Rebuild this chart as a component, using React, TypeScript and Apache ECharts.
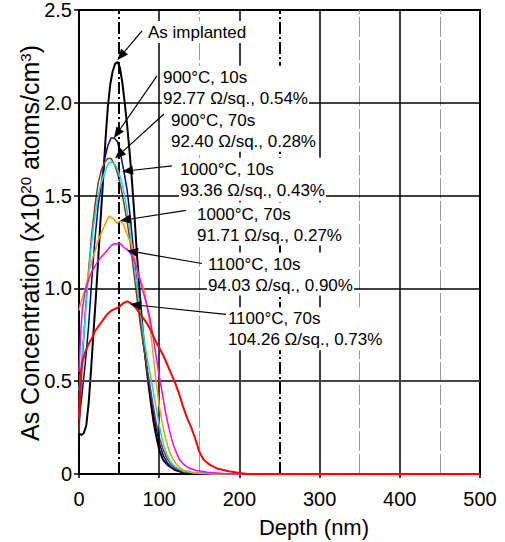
import React, { useEffect, useRef } from "react";
import * as echarts from "echarts";

const FONT = "'Liberation Sans', Arial, Helvetica, sans-serif";

// Depth ticks and concentration ticks
const xTicks = [0, 100, 200, 300, 400, 500];
const yTicks = [0, 0.5, 1.0, 1.5, 2.0, 2.5];

// [depth (nm), As concentration (x10^20 atoms/cm^3)]
const asImplanted = [
  [0, 0.22], [3, 0.21], [6, 0.22], [9, 0.26], [12, 0.38], [15, 0.56], [18, 0.76], [21, 0.95],
  [24, 1.16], [27, 1.38], [30, 1.58], [33, 1.8], [36, 1.98], [39, 2.1], [42, 2.17], [45, 2.21],
  [48, 2.22], [51, 2.19], [54, 2.11], [57, 2.0], [60, 1.88], [63, 1.74], [66, 1.58], [69, 1.4],
  [72, 1.2], [75, 1.02], [78, 0.85], [81, 0.7], [84, 0.58], [87, 0.47], [90, 0.37], [93, 0.28],
  [96, 0.21], [100, 0.13], [105, 0.075], [110, 0.05], [115, 0.035], [120, 0.022], [128, 0.01],
  [140, 0.004], [160, 0.001], [200, 0], [500, 0],
];
const c900_10 = [
  [0, 0.28], [3, 0.4], [6, 0.52], [9, 0.65], [12, 0.8], [16, 1.05], [20, 1.27], [24, 1.45],
  [29, 1.6], [32, 1.7], [36, 1.77], [40, 1.81], [44, 1.81], [48, 1.79], [52, 1.72], [56, 1.63],
  [60, 1.53], [64, 1.38], [68, 1.2], [72, 1.03], [76, 0.86], [80, 0.72], [84, 0.58], [88, 0.46],
  [92, 0.35], [96, 0.25], [100, 0.17], [105, 0.1], [110, 0.06], [115, 0.035], [120, 0.02],
  [130, 0.008], [145, 0.002], [170, 0], [500, 0],
];
const c900_70 = [
  [0, 0.22], [2, 0.42], [4, 0.6], [8, 0.88], [12, 1.1], [16, 1.3], [20, 1.45], [24, 1.57],
  [28, 1.64], [32, 1.68], [36, 1.7], [40, 1.7], [44, 1.67], [48, 1.62], [52, 1.55], [56, 1.46],
  [60, 1.36], [64, 1.24], [68, 1.1], [72, 0.96], [76, 0.82], [80, 0.7], [84, 0.59], [88, 0.49],
  [92, 0.38], [96, 0.28], [100, 0.2], [105, 0.13], [110, 0.08], [115, 0.05], [120, 0.03],
  [130, 0.012], [145, 0.004], [170, 0], [500, 0],
];
const c1000_10 = [
  [0, 0.45], [3, 0.6], [7, 0.8], [10, 0.98], [14, 1.18], [18, 1.33], [22, 1.45], [26, 1.54],
  [30, 1.6], [34, 1.65], [38, 1.68], [42, 1.68], [46, 1.66], [50, 1.62], [54, 1.56], [58, 1.47],
  [62, 1.36], [66, 1.23], [70, 1.09], [74, 0.95], [78, 0.82], [82, 0.7], [86, 0.6], [90, 0.51],
  [94, 0.41], [98, 0.31], [102, 0.22], [106, 0.15], [110, 0.1], [115, 0.06], [120, 0.04],
  [130, 0.015], [145, 0.005], [170, 0], [500, 0],
];
const c1000_70 = [
  [0, 0.88], [2, 0.92], [5, 0.96], [8, 1.0], [10, 1.04], [13, 1.1], [16, 1.15], [20, 1.2],
  [24, 1.26], [28, 1.3], [32, 1.34], [35, 1.37], [38, 1.39], [41, 1.38], [44, 1.37], [47, 1.35],
  [50, 1.36], [53, 1.36], [56, 1.34], [59, 1.3], [62, 1.27], [65, 1.24], [68, 1.2], [71, 1.13],
  [74, 1.07], [78, 1.03], [82, 0.98], [85, 0.9], [88, 0.82], [92, 0.66], [96, 0.5], [100, 0.37],
  [104, 0.27], [108, 0.19], [112, 0.13], [117, 0.08], [122, 0.05], [130, 0.02], [145, 0.006],
  [170, 0], [500, 0],
];
const c1100_10 = [
  [0, 0.55], [2, 0.75], [4, 0.88], [7, 0.97], [10, 1.02], [13, 1.06], [16, 1.09], [20, 1.12],
  [24, 1.15], [28, 1.17], [32, 1.19], [36, 1.21], [40, 1.23], [44, 1.24], [48, 1.24], [52, 1.24],
  [56, 1.22], [60, 1.21], [64, 1.19], [68, 1.16], [72, 1.11], [76, 1.05], [80, 0.98], [84, 0.92],
  [88, 0.85], [92, 0.75], [96, 0.64], [100, 0.53], [104, 0.43], [108, 0.33], [112, 0.25],
  [116, 0.18], [120, 0.13], [125, 0.08], [130, 0.055], [136, 0.035], [145, 0.02], [160, 0.01],
  [180, 0.003], [200, 0], [500, 0],
];
const c1100_70 = [
  [0, 0.3], [1, 0.45], [2, 0.53], [4, 0.6], [8, 0.66], [12, 0.7], [16, 0.73], [20, 0.77],
  [25, 0.8], [30, 0.83], [35, 0.86], [40, 0.88], [45, 0.89], [50, 0.9], [55, 0.92],
  [60, 0.93], [65, 0.92], [70, 0.9], [75, 0.87], [80, 0.84], [85, 0.81], [90, 0.77], [95, 0.72],
  [100, 0.68], [105, 0.64], [110, 0.59], [115, 0.54], [120, 0.49], [125, 0.43], [130, 0.36],
  [135, 0.3], [140, 0.25], [145, 0.19], [150, 0.12], [155, 0.08], [160, 0.06], [165, 0.045],
  [172, 0.03], [187, 0.015], [200, 0.005], [210, 0], [500, 0],
];

const seriesNames = [
  "As implanted", "900°C, 10s", "900°C, 70s", "1000°C, 10s", "1000°C, 70s", "1100°C, 10s", "1100°C, 70s",
];
const seriesData = [asImplanted, c900_10, c900_70, c1000_10, c1000_70, c1100_10, c1100_70];
const seriesColors = ["#000000", "#000099", "#993300", "#00e0e6", "#ff9900", "#ff00ff", "#ff0000"];
const seriesWidths = [2, 1.5, 1.5, 1.5, 1.5, 1.5, 2];

// annotation text lines
const annotLines = [
  ["As implanted"],
  ["900°C, 10s", "92.77 Ω/sq., 0.54%"],
  ["900°C, 70s", "92.40 Ω/sq., 0.28%"],
  ["1000°C, 10s", "93.36 Ω/sq., 0.43%"],
  ["1000°C, 70s", "91.71 Ω/sq., 0.27%"],
  ["1100°C, 10s", "94.03 Ω/sq., 0.90%"],
  ["1100°C, 70s", "104.26 Ω/sq., 0.73%"],
];
// text anchor (left edge, first-line centre) in data coordinates
const annotAnchor = [
  [84.7, 2.382], [103.4, 2.14], [113.4, 1.909], [124.6, 1.645], [145.8, 1.403], [159.5, 1.134], [184.4, 0.839],
];
// arrow start and tip in data coordinates
const arrowFrom = [
  [78.5, 2.387], [97.2, 2.145], [105.9, 1.94], [115.9, 1.66], [133.3, 1.42], [153.3, 1.134], [183.2, 0.86],
];
const arrowTo = [
  [48, 2.23], [43.6, 1.81], [44.9, 1.7], [53.6, 1.63], [51.1, 1.365], [59.8, 1.204], [63.6, 0.914],
];

// grid lines
const vGridSolid = [100, 200, 300, 400];
const vGridDashDark = [50, 250];
const vGridDashLight = [150, 350, 450];
const hGrid = [0.5, 1.0, 1.5, 2.0];

export default function App() {
  const ref = useRef<HTMLDivElement>(null);
  useEffect(() => {
    if (!ref.current) return;
    const chart = echarts.init(ref.current, null, { renderer: "svg" });
    const gridMarks: any[] = [];
    vGridSolid.forEach((v) => gridMarks.push({ xAxis: v, lineStyle: { color: "#000", width: 1.5, type: "solid" } }));
    vGridDashDark.forEach((v) => gridMarks.push({ xAxis: v, lineStyle: { color: "#000", width: 2, type: [12, 3, 2, 3] } }));
    vGridDashLight.forEach((v) => gridMarks.push({ xAxis: v, lineStyle: { color: "#999", width: 1, type: [20, 3] } }));
    hGrid.forEach((v) =>
      gridMarks.push({ yAxis: v, lineStyle: { color: v === 0.5 ? "#444" : "#000", width: v === 0.5 ? 2 : 1.5, type: "solid" } })
    );

    const option: any = {
      animation: false,
      backgroundColor: "#fff",
      textStyle: { fontFamily: FONT },
      grid: { left: 79, right: 25, top: 8, bottom: 68, show: true, borderColor: "#000", borderWidth: 2 },
      xAxis: {
        type: "value", min: xTicks[0], max: xTicks[xTicks.length - 1], interval: 100,
        axisLine: { lineStyle: { color: "#000", width: 1.5 } },
        axisTick: { inside: false, length: 4, lineStyle: { color: "#000", width: 1.5 } },
        axisLabel: { color: "#000", fontSize: 20, fontFamily: FONT, margin: 15 },
        splitLine: { show: false },
      },
      yAxis: {
        type: "value", min: yTicks[0], max: yTicks[yTicks.length - 1], interval: 0.5,
        axisLine: { lineStyle: { color: "#000", width: 1.5 } },
        axisTick: { inside: false, length: 5, lineStyle: { color: "#000", width: 1.5 } },
        axisLabel: {
          color: "#000", fontSize: 20, fontFamily: FONT, margin: 7,
          formatter: (v: number) => (v === 0 ? "0" : v.toFixed(1)),
        },
        splitLine: { show: false },
      },
      series: [
        {
          type: "line", data: [], z: 1, silent: true,
          markLine: { silent: true, symbol: "none", label: { show: false }, animation: false, data: gridMarks },
        },
        ...seriesData.map((d, i) => ({
          type: "line", name: seriesNames[i], data: d, showSymbol: false, symbol: "none", z: 2 + i,
          lineStyle: { color: seriesColors[i], width: seriesWidths[i] },
          itemStyle: { color: seriesColors[i] },
        })),
      ],
    };
    chart.setOption(option);

    const graphics: any[] = [];
    annotLines.forEach((lines, i) => {
      const p = chart.convertToPixel({ gridIndex: 0 }, annotAnchor[i]) as number[];
      graphics.push({
        type: "text", x: p[0], y: p[1] - 11, z: 100,
        style: {
          text: lines.join("\n"), fontSize: 17, fontFamily: FONT, fill: "#000",
          lineHeight: 21, backgroundColor: "#fff", padding: [1, 1, 0, 1],
          align: "left", verticalAlign: "top",
        },
      });
      const a = chart.convertToPixel({ gridIndex: 0 }, arrowFrom[i]) as number[];
      const b = chart.convertToPixel({ gridIndex: 0 }, arrowTo[i]) as number[];
      const dx = b[0] - a[0], dy = b[1] - a[1];
      const len = Math.sqrt(dx * dx + dy * dy);
      const ux = dx / len, uy = dy / len;
      const hl = 11, hw = 4.5;
      const bx = b[0] - ux * hl, by = b[1] - uy * hl;
      graphics.push({
        type: "line", z: 101,
        shape: { x1: a[0], y1: a[1], x2: bx, y2: by },
        style: { stroke: "#000", lineWidth: 1.2 },
      });
      graphics.push({
        type: "polygon", z: 101,
        shape: { points: [[b[0], b[1]], [bx - uy * hw, by + ux * hw], [bx + uy * hw, by - ux * hw]] },
        style: { fill: "#000" },
      });
    });
    graphics.push({
      type: "text", x: 314, y: 527, z: 100,
      style: { text: "Depth (nm)", fontSize: 22, fontFamily: FONT, fill: "#000", align: "center", verticalAlign: "middle" },
    });
    graphics.push({
      type: "text", x: 30, y: 243, rotation: Math.PI / 2, z: 100,
      style: {
        text: "As Concentration (x10{sup|20} atoms/cm{sup|3})",
        fontSize: 25, fontFamily: FONT, fill: "#000", align: "center", verticalAlign: "middle",
        rich: {
          sup: { fontSize: 15, fontFamily: FONT, fill: "#000", verticalAlign: "top", padding: [0, 0, 10, 0] },
        },
      },
    });
    chart.setOption({ graphic: graphics });
    return () => chart.dispose();
  }, []);
  return <div ref={ref} style={{ position: "fixed", left: 0, top: 0, width: 505, height: 542 }} />;
}
